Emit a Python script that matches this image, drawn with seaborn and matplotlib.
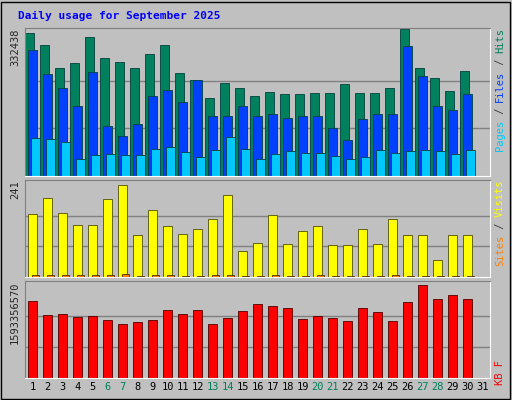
import matplotlib
matplotlib.use("Agg")
import matplotlib.pyplot as plt
import seaborn as sns
import numpy as np

days = list(range(1, 32))
hits_top = [33,45,68,63,37,58,62,68,54,45,73,80,98,83,88,96,92,94,94,93,93,84,93,93,88,29,68,78,91,71]
files_top = [50,74,88,106,72,126,136,124,96,90,102,80,116,116,106,116,114,118,116,116,128,140,119,114,114,46,76,106,110,94]
pages_top = [138,139,142,159,155,154,155,155,149,147,152,157,150,137,149,159,154,151,153,153,156,159,157,150,153,151,150,151,154,150]
visits_top = [213,197,212,224,224,198,184,234,209,225,233,228,218,194,250,242,214,243,230,225,244,244,228,243,218,234,234,259,234,234]
kb_top = [300,314,313,316,315,319,323,321,319,309,313,309,323,317,310,303,305,307,318,315,317,320,307,311,320,301,284,298,294,298]

HMAX, KMAX, SMAX = 332438, 1593356570, 241
hits = [(176-t)/143*HMAX for t in hits_top]
files = [(176-t)/143*HMAX for t in files_top]
pages = [(176-t)/143*HMAX for t in pages_top]
visits = [(276-t)/92*SMAX for t in visits_top]
sites = [v*0.03 for v in visits]
kb = [(377-t)/93*KMAX for t in kb_top]
weekend = {6,7,13,14,20,21,27,28}

W, H = 512, 400
fig = plt.figure(figsize=(W/100, H/100), dpi=100, facecolor="#C0C0C0")
sns.set_style("white")

def mkax(y0, y1, vmax, gmax):
    ax = fig.add_axes([25/W, 1-y1/H, 465/W, (y1-y0)/H])
    ax.set_facecolor("#C0C0C0")
    for f in (1/3, 2/3):
        ax.axhline(gmax*f, color="#808080", lw=1, zorder=0)
    for s in ("top", "left"):
        ax.spines[s].set_color("#808080")
    for s in ("bottom", "right"):
        ax.spines[s].set_color("white")
    return ax

def finish(ax, vmax):
    ax.set_xlim(0.5, 31.5); ax.set_ylim(0, vmax)
    ax.set_xticks([]); ax.set_yticks([])
    ax.set_xlabel(""); ax.set_ylabel("")

d = np.array(days[:30], dtype=float)
ax1 = mkax(28, 176, HMAX*148/143, HMAX)
for off, vals, col in [(-0.2, hits, "#00805C"), (0.0, files, "#0040FF"), (0.2, pages, "#00C8FF")]:
    sns.barplot(x=d+off, y=vals, native_scale=True, width=0.55, color=col,
                edgecolor="#004040", linewidth=0.6, saturation=1, ax=ax1, zorder=2)
finish(ax1, HMAX*148/143)

ax2 = mkax(180, 277, SMAX*97/92, SMAX)
sns.barplot(x=d, y=visits, native_scale=True, width=0.65, color="#FFFF00",
            edgecolor="#505000", linewidth=0.6, saturation=1, ax=ax2, zorder=2)
sns.barplot(x=d+0.2, y=sites, native_scale=True, width=0.45, color="#FF8000",
            edgecolor="#503000", linewidth=0.6, saturation=1, ax=ax2, zorder=3)
finish(ax2, SMAX*97/92)

ax3 = mkax(281, 378, KMAX*97/93, KMAX)
sns.barplot(x=d, y=kb, native_scale=True, width=0.65, color="#FF0000",
            edgecolor="#500000", linewidth=0.6, saturation=1, ax=ax3, zorder=2)
finish(ax3, KMAX*97/93)
ax3.set_xticks(days)
ax3.set_xticklabels([str(x) for x in days], family="DejaVu Sans Mono", fontsize=7.5)
ax3.tick_params(length=0, pad=3)
for lbl, dd in zip(ax3.get_xticklabels(), days):
    lbl.set_color("#00805C" if dd in weekend else "black")

mono = "DejaVu Sans Mono"
fig.text(18/W, 1-16/H, "Daily usage for September 2025", color="#0000FF", weight="bold",
         family=mono, fontsize=8, va="center")
fig.text(15/W, 1-28/H, "332438", rotation=90, family=mono, fontsize=7.5, va="top", ha="center")
fig.text(15/W, 1-180/H, "241", rotation=90, family=mono, fontsize=7.5, va="top", ha="center")
fig.text(15/W, 1-281/H, "1593356570", rotation=90, family=mono, fontsize=7.5, va="top", ha="center")

def rlab(parts, ytop):
    y = ytop
    for txt, col in parts:
        fig.text(500/W, 1-y/H, txt, rotation=90, family=mono, fontsize=7.5, color=col,
                 va="top", ha="center")
        y += len(txt)*6.1
rlab([("Hits", "#00805C"), (" / ", "#404040"), ("Files", "#0040FF"), (" / ", "#404040"), ("Pages", "#00C8FF")], 28)
rlab([("Visits", "#FFFF00"), (" / ", "#404040"), ("Sites", "#FF8000")], 180)
fig.text(500/W, 1-360/H, "KB F", rotation=90, family=mono, fontsize=7.5, color="#FF0000",
         va="top", ha="center")

fig.add_artist(plt.Rectangle((1/W, 1/H), 1-3/W, 1-3/H, transform=fig.transFigure,
                             fill=False, edgecolor="black", lw=1))
fig.savefig("out.png", dpi=100, facecolor=fig.get_facecolor())
